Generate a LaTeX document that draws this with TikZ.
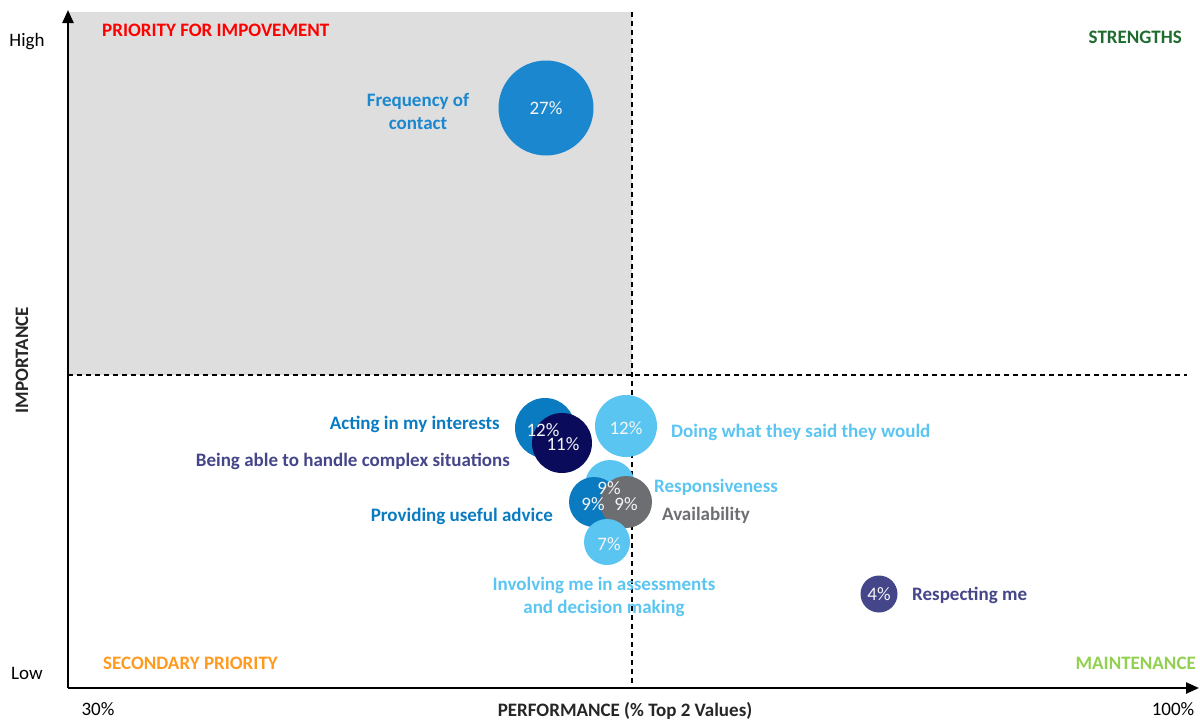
\documentclass[tikz,border=0pt]{standalone}
\usepackage{fontspec}
\setmainfont{Carlito}
\usetikzlibrary{arrows.meta}
\definecolor{bgGray}{HTML}{DEDEDE}
\definecolor{midBlue}{HTML}{1B87CE}
\definecolor{deepBlue}{HTML}{0A7BC1}
\definecolor{navyBlue}{HTML}{0B0B5C}
\definecolor{skyBlue}{HTML}{5BC5F2}
\definecolor{slateGray}{HTML}{6D6E71}
\definecolor{slatePurple}{HTML}{45458A}
\definecolor{strongGreen}{HTML}{1F6B30}
\definecolor{softGreen}{HTML}{92D050}
\definecolor{warmOrange}{HTML}{FF9A1F}
\begin{document}
\begin{tikzpicture}
            [
                x=1pt, y=-1pt,
                every node/.style = {font=\fontsize{19}{23}\selectfont, inner sep=0pt},
                bubble/.style = {circle, minimum size=#1},
                pct/.style    = {text=white!92!gray},
                lbl/.style    = {font=\fontsize{19}{23}\selectfont\bfseries, align=center},
                quad/.style   = {font=\fontsize{19}{23}\selectfont\bfseries},
                axis/.style   = {line width=2.4pt, -{Triangle[length=13pt,width=11pt]}},
                split/.style  = {line width=1.3pt, dash pattern=on 5pt off 4pt}
            ]
            \useasboundingbox (0,0) rectangle (1200,720);
            \fill[bgGray] (68,12) rectangle (632,375);
            % quadrant lines
            \coordinate (vtop) at (632,12);
            \coordinate (vbot) at (632,688);
            \coordinate (hleft) at (68,375);
            \coordinate (hright) at (1187,375);
            \draw[split] (vtop) -- (vbot);
            \draw[split] (hleft) -- (hright);
            % axes
            \coordinate (origin) at (68,688);
            \coordinate (ytip) at (68,10);
            \coordinate (xtip) at (1199,688);
            \draw[axis] (origin) -- (ytip);
            \draw[axis] (origin) -- (xtip);
            \node (high) at (27,42) {High};
            \node (low) at (27,673) {Low};
            \node[quad, rotate=90, text=black!85] (imp) at (22,360) {IMPORTANCE};
            \node (xmin) at (98,709) {30\%};
            \node (xmax) at (1173,709) {100\%};
            \node[quad, text=black!85] (perf) at (625,711) {PERFORMANCE (\% Top 2 Values)};
            % quadrant names
            \node[quad, text=red, anchor=west] (prio) at (102,30) {PRIORITY FOR IMPOVEMENT};
            \node[quad, text=strongGreen, anchor=east] (strong) at (1182,37) {STRENGTHS};
            \node[quad, text=warmOrange, anchor=west] (second) at (103,663) {SECONDARY PRIORITY};
            \node[quad, text=softGreen, anchor=east] (maint) at (1196,663) {MAINTENANCE};
            % bubbles
            \node[bubble=95pt, fill=midBlue] (freq) at (546,108) {};
            \node[bubble=60pt, fill=deepBlue] (acting) at (545,428) {};
            \node[bubble=60pt, fill=navyBlue] (complex) at (562,443) {};
            \node[bubble=62pt, fill=skyBlue] (doing) at (626,426) {};
            \node[bubble=50pt, fill=skyBlue] (resp) at (610,485) {};
            \node[bubble=50pt, fill=deepBlue] (advice) at (594,502) {};
            \node[bubble=52pt, fill=slateGray] (avail) at (626,502) {};
            \node[bubble=46pt, fill=skyBlue] (involve) at (607,542) {};
            \node[bubble=37pt, fill=slatePurple] (respect) at (879,594) {};
            % percentages
            \node[pct] (pfreq) at (freq) {27\%};
            \node[pct] (pacting) at (543,430) {12\%};
            \node[pct] (pcomplex) at (563,444) {11\%};
            \node[pct] (pdoing) at (626,428) {12\%};
            \node[pct] (presp) at (609,488) {9\%};
            \node[pct] (padvice) at (593,504) {9\%};
            \node[pct] (pavail) at (626,504) {9\%};
            \node[pct] (pinvolve) at (609,544) {7\%};
            \node[pct] (prespect) at (respect) {4\%};
            % bubble names
            \node[lbl, text=midBlue] (lfreq) at (418,111) {Frequency of\\contact};
            \node[lbl, text=deepBlue, anchor=east] (lacting) at (500,424) {Acting in my interests};
            \node[lbl, text=slatePurple, anchor=east] (lcomplex) at (510,461) {Being able to handle complex situations};
            \node[lbl, text=skyBlue, anchor=west] (ldoing) at (671,432) {Doing what they said they would};
            \node[lbl, text=skyBlue, anchor=west] (lresp) at (654,487) {Responsiveness};
            \node[lbl, text=deepBlue, anchor=east] (ladvice) at (553,516) {Providing useful advice};
            \node[lbl, text=slateGray, anchor=west] (lavail) at (662,515) {Availability};
            \node[lbl, text=skyBlue] (linvolve) at (604,597) {Involving me in assessments\\and decision making};
            \node[lbl, text=slatePurple, anchor=west] (lrespect) at (912,595) {Respecting me};
        \end{tikzpicture}
\end{document}
